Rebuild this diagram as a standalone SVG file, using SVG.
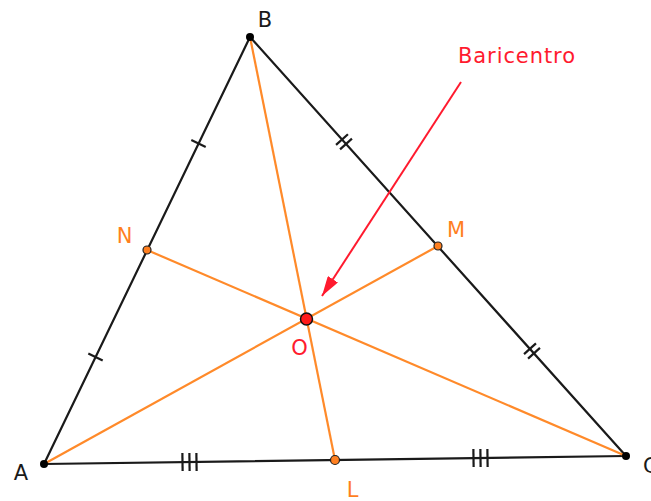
<svg xmlns="http://www.w3.org/2000/svg" width="651" height="501" viewBox="0 0 651 501">
  <style>
    .side { stroke: #1a1a1a; stroke-width: 2.2; fill: none; stroke-linecap: round; }
    .med { stroke: #ff8a2a; stroke-width: 2.2; fill: none; }
    .tick { stroke: #1a1a1a; stroke-width: 2.2; }
    .lbl { font-family: "DejaVu Sans", sans-serif; font-size: 21px; }
    .blk { fill: #1a1a1a; }
    .org { fill: #ff7f1f; }
    .red { fill: #ff1a2e; }
  </style>
  <defs>
    <marker id="arr" viewBox="0 0 20 12" refX="20" refY="6" markerWidth="20" markerHeight="12" markerUnits="userSpaceOnUse" orient="auto">
      <path d="M0,0 L20,6 L0,12 Z" fill="#ff1a2e"/>
    </marker>
  </defs>

  <g id="connectors">
    <line class="side" x1="44" y1="464" x2="250" y2="37"/>
    <line class="side" x1="250" y1="37" x2="626" y2="456"/>
    <line class="side" x1="44" y1="464" x2="626" y2="456"/>
    <line class="med" x1="250" y1="37" x2="335" y2="460"/>
    <line class="med" x1="44" y1="464" x2="438" y2="246"/>
    <line class="med" x1="626" y1="456" x2="147" y2="250"/>
    <g id="ticks">
      <g transform="translate(95.5,357) rotate(-64.25)"><line class="tick" x1="0" y1="-8" x2="0" y2="8"/></g>
      <g transform="translate(198.5,143.5) rotate(-64.25)"><line class="tick" x1="0" y1="-8" x2="0" y2="8"/></g>
      <g transform="translate(344,141.8) rotate(48.1)"><line class="tick" x1="-3" y1="-8" x2="-3" y2="8"/><line class="tick" x1="3" y1="-8" x2="3" y2="8"/></g>
      <g transform="translate(532,351) rotate(48.1)"><line class="tick" x1="-3" y1="-8" x2="-3" y2="8"/><line class="tick" x1="3" y1="-8" x2="3" y2="8"/></g>
      <g transform="translate(189.5,462) rotate(-0.79)"><line class="tick" x1="-7" y1="-9" x2="-7" y2="9"/><line class="tick" x1="0" y1="-9" x2="0" y2="9"/><line class="tick" x1="7" y1="-9" x2="7" y2="9"/></g>
      <g transform="translate(480.5,458) rotate(-0.79)"><line class="tick" x1="-7" y1="-9" x2="-7" y2="9"/><line class="tick" x1="0" y1="-9" x2="0" y2="9"/><line class="tick" x1="7" y1="-9" x2="7" y2="9"/></g>
    </g>
    <line id="arrow" x1="461" y1="82" x2="322" y2="296" stroke="#ff1a2e" stroke-width="2" marker-end="url(#arr)"/>
  </g>

  <g id="A"><circle cx="44" cy="464" r="4" fill="#000"/><text class="lbl blk" x="21" y="480" text-anchor="middle">A</text></g>
  <g id="B"><circle cx="250" cy="37" r="4" fill="#000"/><text class="lbl blk" x="265" y="27" text-anchor="middle">B</text></g>
  <g id="C"><circle cx="626" cy="456" r="4" fill="#000"/><text class="lbl blk" x="643" y="473">C</text></g>
  <g id="N"><circle cx="147" cy="250" r="4" fill="#ff7f1f" stroke="#222" stroke-width="1.2"/><text class="lbl org" x="124.5" y="243" text-anchor="middle">N</text></g>
  <g id="M"><circle cx="438" cy="246" r="4" fill="#ff7f1f" stroke="#222" stroke-width="1.2"/><text class="lbl org" x="456" y="237" text-anchor="middle">M</text></g>
  <g id="L"><circle cx="335" cy="460" r="4.5" fill="#ff7f1f" stroke="#222" stroke-width="1.2"/><text class="lbl org" x="352.5" y="497" text-anchor="middle">L</text></g>
  <g id="O"><circle cx="306.5" cy="319" r="6" fill="#ff1a1a" stroke="#111" stroke-width="1.5"/><text class="lbl red" x="299.5" y="355" text-anchor="middle">O</text></g>
  <g id="Baricentro"><text class="lbl red" x="458" y="63" textLength="117" lengthAdjust="spacing">Baricentro</text></g>
</svg>
